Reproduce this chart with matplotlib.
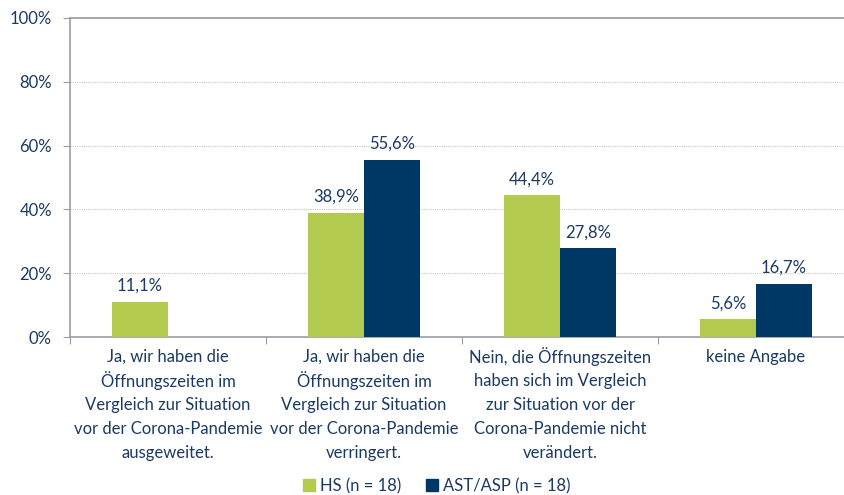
import numpy as np
import matplotlib
matplotlib.use('Agg')
import matplotlib.pyplot as plt
from matplotlib.patches import Patch

categories = [
    'Ja, wir haben die\nÖffnungszeiten im\nVergleich zur Situation\nvor der Corona-Pandemie\nausgeweitet.',
    'Ja, wir haben die\nÖffnungszeiten im\nVergleich zur Situation\nvor der Corona-Pandemie\nverringert.',
    'Nein, die Öffnungszeiten\nhaben sich im Vergleich\nzur Situation vor der\nCorona-Pandemie nicht\nverändert.',
    'keine Angabe',
]
hs = [11.1, 38.9, 44.4, 5.6]
ast = [0, 55.6, 27.8, 16.7]
series_names = ['HS (n = 18)', 'AST/ASP (n = 18)']
yticks = [0, 20, 40, 60, 80, 100]

GREEN = '#b2cb4e'
NAVY = '#003865'
TEXT = '#1b3a63'
GRAY = '#9a9ca8'
FS = 12

plt.rcParams['font.family'] = ['Lato', 'DejaVu Sans']

fig = plt.figure(figsize=(8.44, 4.95), dpi=100)
W, H = 844, 495
ax = fig.add_axes([70 / W, (H - 337) / H, (854 - 70) / W, (337 - 18) / H])

x = np.arange(len(categories))
w = 56 / 196
ax.bar(x - w / 2, hs, w, color=GREEN, zorder=3)
ax.bar(x + w / 2, ast, w, color=NAVY, zorder=3)

for xs, vals in [(x - w / 2, hs), (x + w / 2, ast)]:
    for xi, v in zip(xs, vals):
        if v > 0:
            ax.text(xi, v + 2.5, f'{v:.1f}%'.replace('.', ','), ha='center', va='bottom',
                    fontsize=FS, color=TEXT)

ax.set_xlim(-0.5, len(categories) - 0.5)
ax.set_ylim(0, 100)
ax.set_yticks(yticks)
ax.set_yticklabels([f'{t}%' for t in yticks], fontsize=FS, color=TEXT)
ax.yaxis.grid(True, color='#c8c8c0', linestyle=(0, (1, 1)), linewidth=0.8, zorder=0)

ax.set_xticks(np.arange(len(categories) + 1) - 0.5)
ax.set_xticklabels([])
ax.tick_params(axis='x', length=5, color=GRAY, direction='out')
ax.tick_params(axis='y', length=5, color=GRAY, pad=8)

# category labels, one line at a time for even spacing
for xi, lab in zip(x, categories):
    for k, line in enumerate(lab.split('\n')):
        fig.text((70 + 196 * (xi + 0.5)) / W, 1 - (357 + 24 * k) / H, line,
                 ha='center', va='center', fontsize=FS, color=TEXT)

for s in ['left', 'bottom', 'top']:
    ax.spines[s].set_color(GRAY)
    ax.spines[s].set_linewidth(1.2)
ax.spines['right'].set_visible(False)

handles = [Patch(color=GREEN), Patch(color=NAVY)]
fig.legend(handles, series_names, loc='center', bbox_to_anchor=(437 / W, 1 - 486 / H),
           ncol=2, frameon=False, fontsize=FS, handlelength=0.7, handleheight=0.7,
           handletextpad=0.3, columnspacing=1.5, labelcolor=TEXT)

fig.savefig('out.png', dpi=100)
